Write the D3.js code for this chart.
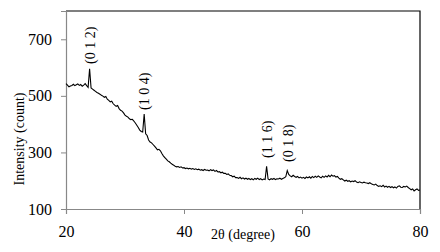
<!DOCTYPE html>
<html>
<head>
<meta charset="utf-8">
<script src="https://cdn.jsdelivr.net/npm/d3@7"></script>
<style>
  html, body { margin: 0; padding: 0; background: #fff; }
  svg { display: block; font-family: "Liberation Serif", "Times New Roman", serif; }
</style>
</head>
<body>
<div id="chart"></div>
<script>
// 2θ positions (degree), 0.25° scan step
const twoTheta = [
  20.00, 20.25, 20.50, 20.75, 21.00, 21.25, 21.50, 21.75, 22.00, 22.25, 22.50, 22.75,
  23.00, 23.25, 23.50, 23.75, 24.00, 24.25, 24.50, 24.75, 25.00, 25.25, 25.50, 25.75,
  26.00, 26.25, 26.50, 26.75, 27.00, 27.25, 27.50, 27.75, 28.00, 28.25, 28.50, 28.75,
  29.00, 29.25, 29.50, 29.75, 30.00, 30.25, 30.50, 30.75, 31.00, 31.25, 31.50, 31.75,
  32.00, 32.25, 32.50, 32.75, 33.00, 33.25, 33.50, 33.75, 34.00, 34.25, 34.50, 34.75,
  35.00, 35.25, 35.50, 35.75, 36.00, 36.25, 36.50, 36.75, 37.00, 37.25, 37.50, 37.75,
  38.00, 38.25, 38.50, 38.75, 39.00, 39.25, 39.50, 39.75, 40.00, 40.25, 40.50, 40.75,
  41.00, 41.25, 41.50, 41.75, 42.00, 42.25, 42.50, 42.75, 43.00, 43.25, 43.50, 43.75,
  44.00, 44.25, 44.50, 44.75, 45.00, 45.25, 45.50, 45.75, 46.00, 46.25, 46.50, 46.75,
  47.00, 47.25, 47.50, 47.75, 48.00, 48.25, 48.50, 48.75, 49.00, 49.25, 49.50, 49.75,
  50.00, 50.25, 50.50, 50.75, 51.00, 51.25, 51.50, 51.75, 52.00, 52.25, 52.50, 52.75,
  53.00, 53.25, 53.50, 53.75, 54.00, 54.25, 54.50, 54.75, 55.00, 55.25, 55.50, 55.75,
  56.00, 56.25, 56.50, 56.75, 57.00, 57.25, 57.50, 57.75, 58.00, 58.25, 58.50, 58.75,
  59.00, 59.25, 59.50, 59.75, 60.00, 60.25, 60.50, 60.75, 61.00, 61.25, 61.50, 61.75,
  62.00, 62.25, 62.50, 62.75, 63.00, 63.25, 63.50, 63.75, 64.00, 64.25, 64.50, 64.75,
  65.00, 65.25, 65.50, 65.75, 66.00, 66.25, 66.50, 66.75, 67.00, 67.25, 67.50, 67.75,
  68.00, 68.25, 68.50, 68.75, 69.00, 69.25, 69.50, 69.75, 70.00, 70.25, 70.50, 70.75,
  71.00, 71.25, 71.50, 71.75, 72.00, 72.25, 72.50, 72.75, 73.00, 73.25, 73.50, 73.75,
  74.00, 74.25, 74.50, 74.75, 75.00, 75.25, 75.50, 75.75, 76.00, 76.25, 76.50, 76.75,
  77.00, 77.25, 77.50, 77.75, 78.00, 78.25, 78.50, 78.75, 79.00, 79.25, 79.50, 79.75,
  80.00
];
const intensity = [
  543, 538, 532, 535, 537, 541, 536, 539, 542, 537, 540, 534,
  538, 543, 536, 530, 596, 528, 524, 520, 516, 512, 509, 506,
  502, 499, 495, 498, 488, 484, 479, 481, 472, 467, 463, 466,
  455, 449, 446, 440, 432, 428, 425, 419, 416, 417, 411, 404,
  396, 388, 379, 374, 372, 436, 366, 360, 344, 337, 334, 328,
  322, 316, 309, 311, 306, 296, 288, 282, 276, 270, 267, 262,
  258, 255, 251, 249, 250, 247, 249, 245, 246, 243, 245, 242,
  244, 241, 243, 240, 242, 239, 241, 237, 239, 236, 240, 237,
  238, 235, 239, 236, 238, 233, 236, 231, 232, 228, 230, 226,
  226, 222, 224, 219, 218, 214, 216, 211, 211, 208, 212, 207,
  210, 206, 209, 205, 208, 204, 207, 203, 208, 205, 209, 204,
  207, 203, 206, 204, 251, 206, 203, 207, 205, 208, 204, 207,
  206, 209, 205, 208, 210, 214, 236, 222, 217, 214, 219, 215,
  212, 215, 210, 213, 209, 212, 208, 213, 210, 214, 209, 215,
  211, 216, 212, 217, 213, 210, 216, 212, 217, 213, 219, 214,
  220, 216, 218, 213, 215, 209, 205, 207, 203, 199, 202, 198,
  200, 196, 199, 197, 200, 195, 193, 196, 194, 192, 195, 193,
  192, 190, 193, 189, 187, 185, 188, 183, 180, 182, 179, 184,
  178, 181, 177, 180, 176, 179, 175, 178, 174, 180, 182, 177,
  176, 180, 178, 181, 176, 172, 168, 171, 164, 168, 171, 166,
  167
];

// peak labels (Miller indices), the 2θ they belong to, and where each label starts
const peakLabels = ['(0 1 2)', '(1 0 4)', '(1 1 6)', '(0 1 8)'];
const peakAngles = [24.0, 33.2, 54.1, 57.6];
const labelBase = [64, 110, 158, 162];

const xTicks = [20, 40, 60, 80];
const yTicks = [100, 300, 500, 700];

const width = 440, height = 252;
const margin = { top: 11, right: 20, bottom: 43, left: 66 };
const serif = '"Liberation Serif", "Times New Roman", serif';

const svg = d3.select('#chart').append('svg')
  .attr('width', width)
  .attr('height', height)
  .attr('font-family', serif);

const x = d3.scaleLinear().domain([20, 80]).range([margin.left, width - margin.right]);
const y = d3.scaleLinear().domain([100, 800]).range([height - margin.bottom, margin.top]);

// plot frame: black on top and right
svg.append('path')
  .attr('d', `M${x(20)},${y(800)}H${x(80)}V${y(100)}`)
  .attr('fill', 'none')
  .attr('stroke', '#000')
  .attr('stroke-width', 1.2);

// axes: grey lines and ticks
const xAxis = svg.append('g')
  .attr('transform', `translate(0,${y(100)})`)
  .call(d3.axisBottom(x).tickValues(xTicks).tickSize(5).tickPadding(12).tickFormat(d3.format('d')));

const yAxis = svg.append('g')
  .attr('transform', `translate(${x(20)},0)`)
  .call(d3.axisLeft(y).tickValues(yTicks).tickSize(5).tickPadding(9).tickFormat(d3.format('d')));

[xAxis, yAxis].forEach(a => {
  a.attr('font-family', serif).attr('font-size', 16);
  a.select('.domain').attr('stroke', '#888').attr('stroke-width', 1.2);
  a.selectAll('.tick line').attr('stroke', '#888');
  a.selectAll('.tick text').attr('fill', '#000');
});

// the scan
const pts = twoTheta.map((t, i) => [t, intensity[i]]);
svg.append('path')
  .datum(pts)
  .attr('fill', 'none')
  .attr('stroke', '#000')
  .attr('stroke-width', 1.1)
  .attr('stroke-linejoin', 'miter')
  .attr('d', d3.line().x(d => x(d[0])).y(d => y(d[1])));

// peak labels, rotated
svg.append('g')
  .selectAll('text')
  .data(peakLabels)
  .join('text')
  .attr('transform', (d, i) => `translate(${x(peakAngles[i]) + 5},${labelBase[i]}) rotate(-90)`)
  .attr('font-size', 14)
  .text(d => d);

// axis titles
svg.append('text')
  .attr('x', 243)
  .attr('y', 239)
  .attr('text-anchor', 'middle')
  .attr('font-size', 14)
  .text('2θ (degree)');

svg.append('text')
  .attr('transform', 'translate(24,139) rotate(-90)')
  .attr('text-anchor', 'middle')
  .attr('font-size', 14)
  .text('Intensity (count)');
</script>
</body>
</html>
